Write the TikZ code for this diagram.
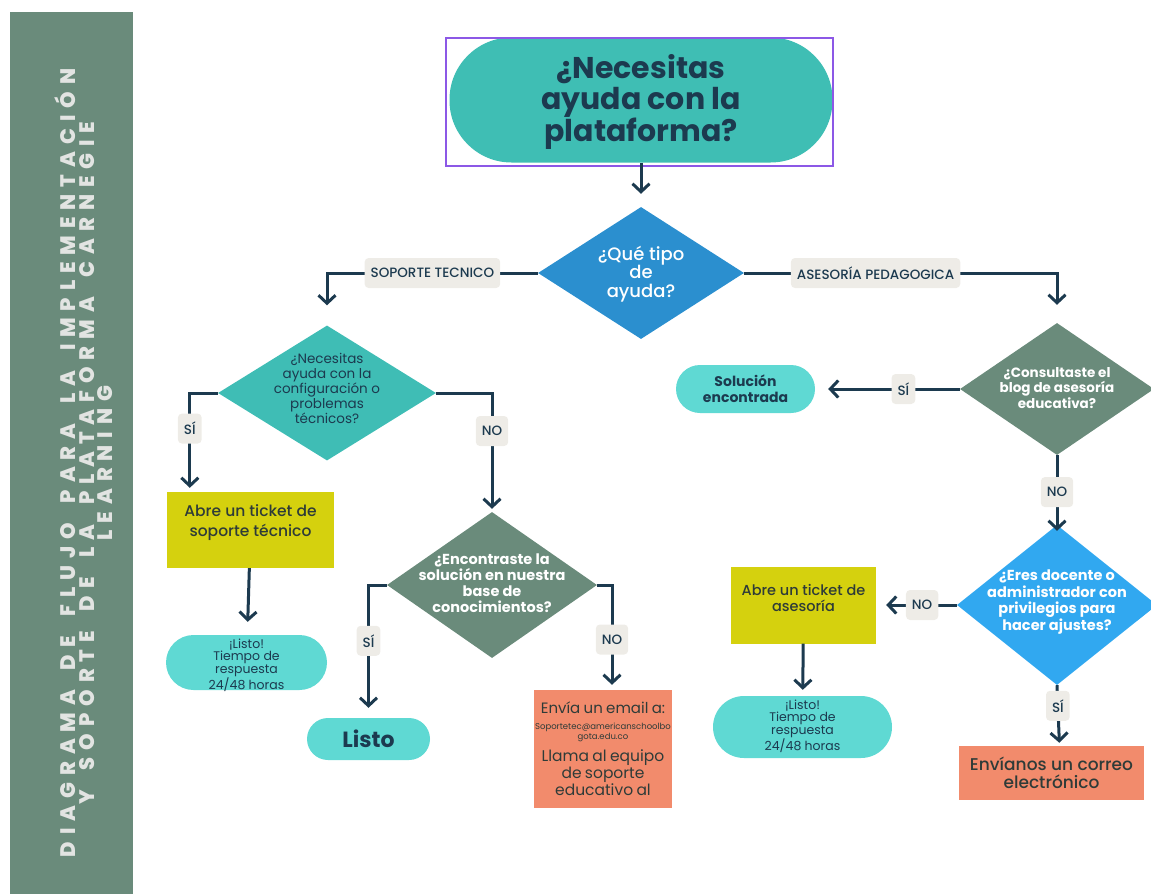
\documentclass[tikz,border=0pt]{standalone}
\usepackage{fontspec}
\setmainfont{Poppins}
\newfontfamily\sidefont{Poppins ExtraBold}[LetterSpace=33,WordSpace=1.8]
\newfontfamily\medfont{Poppins Medium}
\usetikzlibrary{shapes.geometric,arrows.meta}
\definecolor{navy}{HTML}{1C3A4F}
\definecolor{sidegreen}{HTML}{6A8B7B}
\definecolor{sidetext}{HTML}{E2E4E2}
\definecolor{titleteal}{HTML}{3FBEB4}
\definecolor{framepurple}{HTML}{8C58E6}
\definecolor{tipoblue}{HTML}{2B8FCF}
\definecolor{confteal}{HTML}{3FBDB5}
\definecolor{pillcyan}{HTML}{5FD9D3}
\definecolor{ticketyellow}{HTML}{D5D10E}
\definecolor{mailorange}{HTML}{F28B6C}
\definecolor{adminblue}{HTML}{31A8F0}
\definecolor{lblgray}{HTML}{EEECE7}
\definecolor{darktext}{HTML}{2E3B38}
\begin{document}
\begin{tikzpicture}[x=1pt,y=-1pt,
  flow/.style={draw=navy,line width=3pt,-{Straight Barb[length=8pt,width=17pt]}},
  lbl/.style={fill=lblgray,rounded corners=4pt,text=navy,font=\medfont\fontsize{13.5}{13.5}\selectfont,inner xsep=6pt,minimum height=30pt},
  choice/.style={diamond,fill=#1,inner sep=0pt},
  pill/.style={fill=pillcyan,rounded corners=#1,minimum height=2*#1},
  ticket/.style={fill=ticketyellow,minimum width=#1},
  mailbox/.style={fill=mailorange,text=darktext,align=center},
  txt/.style={align=center,text=#1}]
\useasboundingbox (0,0) rectangle (1151,894);
\fill[sidegreen] (10,12) rectangle (133,894);
\node[rotate=90,text=sidetext,align=center,font=\sidefont\fontsize{21}{18.5}\selectfont] (heading) at (84,463) {DIAGRAMA DE FLUJO PARA LA IMPLEMENTACIÓN\\Y SOPORTE DE LA PLATAFORMA CARNEGIE\\LEARNING};

\node[fill=titleteal,rounded corners=62pt,minimum width=383pt,minimum height=125pt] (title) at (641,100) {};
\node[txt=navy,font=\bfseries\fontsize{30}{31}\selectfont] (titlet) at (641,102) {¿Necesitas\\ayuda con la\\plataforma?};
\draw[framepurple,line width=2.5pt] (446,38) rectangle (833,166);

\node[choice=tipoblue,minimum width=206pt,minimum height=132pt] (tipo) at (641,273) {};
\node[txt=white,font=\medfont\fontsize{18}{18.5}\selectfont] (tipot) at (641,274) {¿Qué tipo\\de\\ayuda?};

\node[choice=confteal,minimum width=218pt,minimum height=135pt] (q2) at (327,393) {};
\node[txt=navy,font=\fontsize{13.5}{15}\selectfont] (q2t) at (327,388) {¿Necesitas\\ayuda con la\\configuración o\\problemas\\técnicos?};

\node[choice=sidegreen,minimum width=210pt,minimum height=146pt] (q3) at (492,585) {};
\node[txt=white,font=\bfseries\fontsize{14.5}{16}\selectfont] (q3t) at (492,583) {¿Encontraste la\\solución en nuestra\\base de\\conocimientos?};

\node[choice=sidegreen,minimum width=194pt,minimum height=132pt] (blog) at (1057,389) {};
\node[txt=white,font=\bfseries\fontsize{13.5}{13.5}\selectfont] (blogt) at (1057,388) {¿Consultaste el\\blog de asesoría\\educativa?};

\node[choice=adminblue,minimum width=200pt,minimum height=160pt] (admin) at (1057,605) {};
\node[txt=white,font=\bfseries\fontsize{14.5}{16.5}\selectfont] (admint) at (1057,602) {¿Eres docente o\\administrador con\\privilegios para\\hacer ajustes?};

\node[ticket=167pt,minimum height=76pt] (t1) at (250.5,530) {};
\node[txt=darktext,font=\medfont\fontsize{15.5}{20}\selectfont] (t1t) at (250.5,523) {Abre un ticket de\\soporte técnico};
\node[pill=27.5pt,minimum width=161pt] (done1) at (246.5,662.5) {};
\node[txt=navy,font=\fontsize{12.5}{12.5}\selectfont] (done1t) at (246.5,665) {¡Listo!\\Tiempo de\\respuesta\\24/48 horas};

\node[pill=21pt,minimum width=123pt,txt=navy,font=\bfseries\fontsize{22}{22}\selectfont] (listo) at (368.5,739) {Listo};
\node[mailbox,text width=136pt,minimum height=118pt,inner xsep=1pt] (mail) at (603,749) {\fontsize{15}{16}\selectfont Envía un email a:\\[6pt]\fontsize{8.5}{10}\selectfont Soportetec@americanschoolbo\\gota.edu.co\\[5pt]\fontsize{15.5}{17}\selectfont Llama al equipo\\de soporte\\educativo al};

\node[pill=24pt,minimum width=139pt,txt=navy,font=\bfseries\fontsize{14}{16}\selectfont] (found) at (745.5,389) {Solución\\encontrada};

\node[ticket=145pt,minimum height=77pt] (t2) at (803.5,605) {};
\node[txt=darktext,font=\medfont\fontsize{14.5}{16}\selectfont] (t2t) at (803.5,598) {Abre un ticket de\\asesoría};
\node[pill=31pt,minimum width=179pt] (done2) at (802.5,727) {};
\node[txt=navy,font=\fontsize{12.5}{12.5}\selectfont] (done2t) at (802.5,726) {¡Listo!\\Tiempo de\\respuesta\\24/48 horas};

\node[mailbox,minimum width=185pt,minimum height=54pt,font=\medfont\fontsize{17}{18}\selectfont] (mail2) at (1051.5,773) {Envíanos un correo\\electrónico};

\draw[flow,shorten >=13pt] (title) -- (tipo);
\draw[flow,shorten >=20pt] (tipo.west) -| node[lbl,pos=.25] (lsop) {SOPORTE TECNICO} (q2.north);
\draw[flow,shorten >=18pt] (tipo.east) -| node[lbl,pos=.21] (lase) {ASESORÍA PEDAGOGICA} (blog.north);
\draw[flow,shorten >=4pt] (q2.west) -| node[lbl,pos=.68] (lq2si) {SÍ} ([xshift=23pt]t1.north west);
\draw[flow,shorten >=3pt] (q2.east) -| node[lbl,pos=.66] (lq2no) {NO} (q3.north);
\draw[flow,shorten >=13pt] (t1) -- (done1);
\draw[flow,shorten >=10pt] (q3.west) -| node[lbl,pos=.71] (lq3si) {SÍ} (listo.north);
\draw[flow,shorten >=5pt] (q3.east) -| node[lbl,pos=.76] (lq3no) {NO} ([xshift=9pt]mail.north);
\draw[flow,shorten >=13pt] (blog.west) -- node[lbl,pos=.39] (lblogsi) {SÍ} (found.east);
\draw[flow,shorten >=-6pt] (blog.south) -- node[lbl,pos=.53] (lblogno) {NO} (admin.north);
\draw[flow,shorten >=10pt] (admin.west) -- node[lbl,pos=.43] (ladminno) {NO} (t2.east);
\draw[flow,shorten >=3pt] (admin.south) -- node[lbl,pos=.34] (ladminsi) {SÍ} ([xshift=8pt]mail2.north);
\draw[flow,shorten >=6pt] (t2) -- (done2);
\end{tikzpicture}
\end{document}
